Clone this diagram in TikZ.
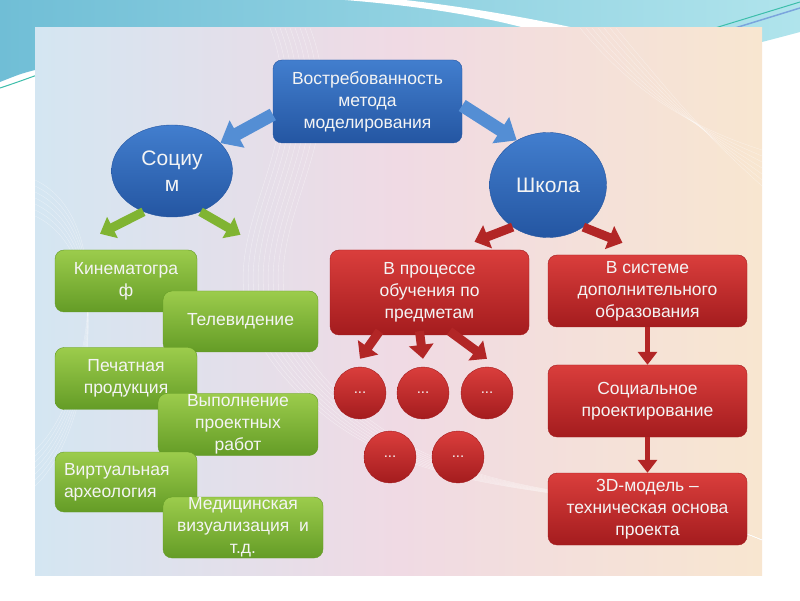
\documentclass[tikz,border=0pt]{standalone}
\usepackage{fontspec}
\setmainfont{Liberation Sans}
\usetikzlibrary{arrows.meta,shapes.geometric}
\definecolor{boxblue}{RGB}{66,126,206}
\definecolor{boxbluedark}{RGB}{36,86,162}
\definecolor{boxgreen}{RGB}{156,204,76}
\definecolor{boxgreendark}{RGB}{100,156,38}
\definecolor{boxred}{RGB}{218,62,60}
\definecolor{boxreddark}{RGB}{164,28,30}
\definecolor{arrowgreen}{RGB}{128,180,50}
\definecolor{arrowred}{RGB}{178,38,38}
\definecolor{arrowblue}{RGB}{84,142,212}
\definecolor{labelwhite}{RGB}{244,244,244}
\definecolor{slideteal}{RGB}{112,190,214}
\definecolor{slidetealpale}{RGB}{176,228,236}
\definecolor{slideline}{RGB}{60,190,170}
\definecolor{panelblue}{RGB}{212,230,242}
\definecolor{panelpink}{RGB}{240,218,228}
\definecolor{panelpeach}{RGB}{248,230,208}

\begin{document}
\begin{tikzpicture}[x=1pt, y=1pt,
  boxtext/.style={text=labelwhite, align=center, inner sep=0pt, font=\fontsize{17.5}{22}\selectfont},
  bluebox/.style={boxtext, rectangle, rounded corners=9pt, draw=boxbluedark, top color=boxblue, bottom color=boxbluedark},
  blueoval/.style={boxtext, ellipse, draw=boxbluedark, top color=boxblue, bottom color=boxbluedark, font=\fontsize{21}{26}\selectfont},
  greenbox/.style={boxtext, rectangle, rounded corners=9pt, draw=boxgreendark, top color=boxgreen, bottom color=boxgreendark},
  redbox/.style={boxtext, rectangle, rounded corners=9pt, draw=boxreddark, top color=boxred, bottom color=boxreddark, minimum width=199},
  reddot/.style={boxtext, circle, draw=boxreddark, top color=boxred, bottom color=boxreddark, minimum size=52, font=\fontsize{15}{17}\selectfont},
  bluearrow/.style={arrowblue, line width=13pt, -{Triangle[width=30pt,length=19pt]}},
  greenarrow/.style={arrowgreen, line width=9pt, -{Triangle[width=23pt,length=14pt]}},
  redarrow/.style={arrowred, line width=9pt, -{Triangle[width=24pt,length=14pt]}},
  thinarrow/.style={arrowred, line width=5pt, -{Triangle[width=19pt,length=13pt]}}]
\useasboundingbox (0,0) rectangle (800,600);

% Slide background
\fill[white] (0,0) rectangle (800,600);
\shade[left color=slideteal, right color=slidetealpale] (0,600) -- (800,600) -- (800,568)
  .. controls (785,564) .. (762,558) -- (35,530) .. controls (20,526) .. (0,518) -- cycle;
\fill[white] (345,600) .. controls (420,594) and (480,584) .. (525,572) -- (575,572)
  .. controls (500,588) and (440,596) .. (405,600) -- cycle;
\draw[slideline, line width=1pt] (0,512) .. controls (15,517) .. (40,526);
\draw[slideline, line width=1pt] (715,572) -- (800,598);
\draw[boxblue!70, line width=1.5pt] (735,572) -- (800,592);
\shade[left color=panelblue, right color=panelpeach, middle color=panelpink] (35,25) rectangle (762,572);
\begin{scope}
\clip (35,25) rectangle (762,572);
\foreach \d in {0,5,...,40}
  \draw[white, opacity=0.45] (270+\d,572) .. controls (330+\d,420) and (140+\d,330) .. (330+\d,180)
    .. controls (450+\d,90) and (620,120) .. (762,60);
\foreach \d in {0,6,...,36}
  \draw[white, opacity=0.4] (35,420-\d) .. controls (120,380-\d) and (90,200-\d) .. (35,150-\d);
\foreach \d in {0,6,...,36}
  \draw[white, opacity=0.4] (580+\d,572) .. controls (640+\d,500) and (700,470) .. (762,450-\d);
\end{scope}

% Top level
\node[bluebox, minimum width=189, minimum height=83] (need) at (367.5,498.5) {Востребованность\\метода\\моделирования};
\node[blueoval, minimum width=121, minimum height=92] (society) at (172,429) {Социу\\м};
\node[blueoval, minimum width=117, minimum height=105] (school) at (548,415) {Школа};
\draw[bluearrow] ([yshift=-13]need.west) -- (society.30);
\draw[bluearrow] ([yshift=-4]need.east) -- (school.125);

% Society branch
\node[greenbox, minimum width=142, minimum height=62] (cinema) at (126,319) {Кинематогра\\ф};
\node[greenbox, minimum width=155, minimum height=61] (tv) at (240.5,278.5) {Телевидение};
\node[greenbox, minimum width=142, minimum height=62] (press) at (126,221.5) {Печатная\\продукция};
\node[greenbox, minimum width=160, minimum height=62] (projects) at (238,175.5) {Выполнение\\проектных\\работ};
\node[greenbox, minimum width=142, minimum height=60, text width=124, align=left] (archeo) at (126,118) {Виртуальная\\археология};
\node[greenbox, minimum width=160, minimum height=61] (medical) at (243,72.5) {Медицинская\\визуализация~ и\\т.д.};
\draw[greenarrow] (society.235) -- ([xshift=-26,yshift=16]cinema.north);
\draw[greenarrow] (society.305) -- ([yshift=56]tv.north);

% School branch
\node[redbox, minimum height=85] (lessons) at (429.5,307.5) {В процессе\\обучения по\\предметам};
\node[redbox, minimum height=72] (extra) at (647.5,309) {В системе\\дополнительного\\образования};
\node[redbox, minimum height=72] (social) at (647.5,199) {Социальное\\проектирование};
\node[redbox, minimum height=72] (model) at (647.5,91) {3D-модель --\\техническая основа\\проекта};
\node[reddot] (dotA) at (360,207) {...};
\node[reddot] (dotB) at (423,207) {...};
\node[reddot] (dotC) at (487,207) {...};
\node[reddot] (dotD) at (390,143) {...};
\node[reddot] (dotE) at (458,143) {...};
\draw[redarrow] (school.230) -- ([xshift=45,yshift=8]lessons.north);
\draw[redarrow] (school.310) -- ([xshift=-25,yshift=12]extra.north);
\draw[redarrow] ([xshift=-50,yshift=4]lessons.south) -- ([yshift=8]dotA.north);
\draw[redarrow] ([xshift=-10,yshift=4]lessons.south) -- ([yshift=8]dotB.north);
\draw[redarrow] ([xshift=20,yshift=4]lessons.south) -- ([yshift=8]dotC.north);
\draw[thinarrow] (extra.south) -- (social.north);
\draw[thinarrow] (social.south) -- (model.north);
\end{tikzpicture}
\end{document}
